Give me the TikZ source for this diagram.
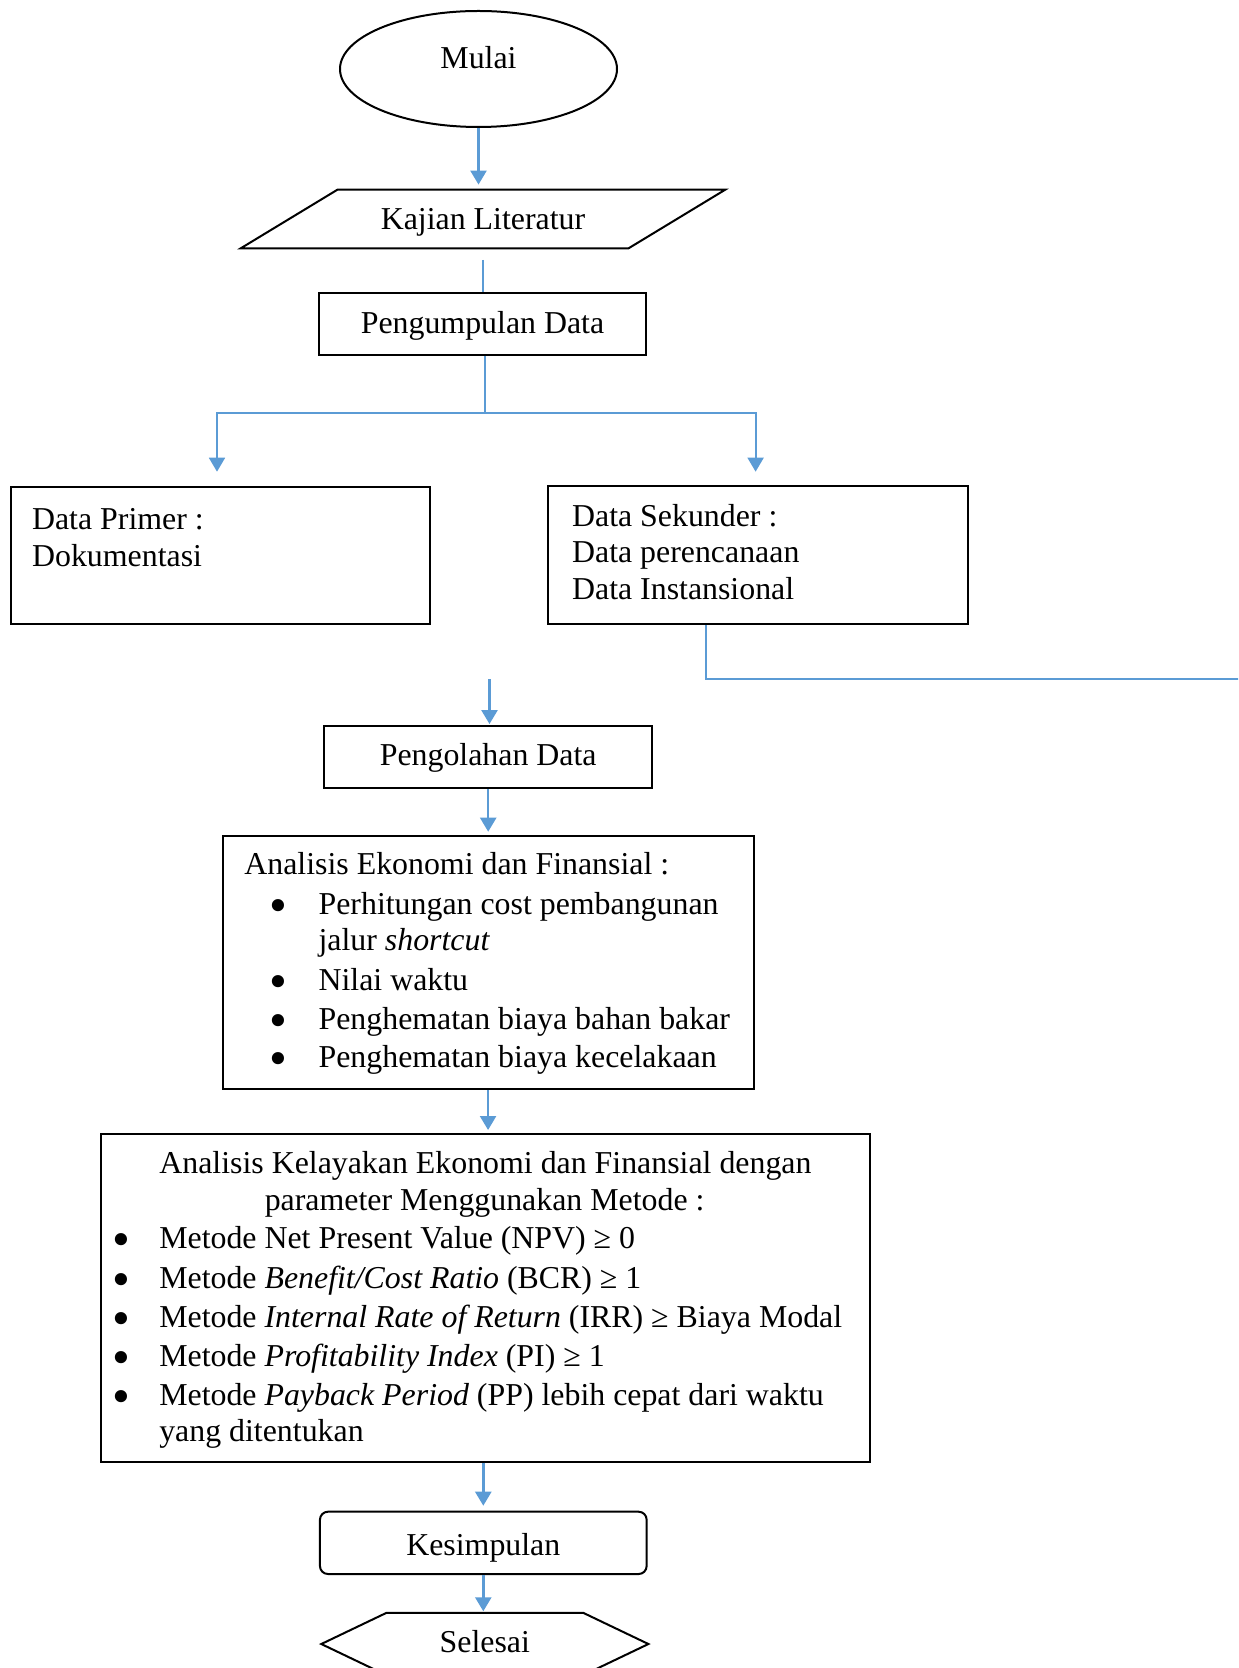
\documentclass[tikz,border=0pt]{standalone}
\usepackage{fontspec}
\setmainfont{Liberation Serif}
\usepackage{graphicx}
\usetikzlibrary{arrows.meta,calc,shapes.geometric}
\definecolor{cblue}{RGB}{91,155,213}
\newcommand\fs{\fontsize{15.93pt}{18pt}\selectfont}
\newcommand\bulglyph{\smash{\raisebox{-4pt}{\scalebox{1.6}{\textbullet}}}}
\begin{document}
\begin{tikzpicture}[x=0.5pt,y=-0.5pt, font=\fs,
  box/.style={draw, line width=1pt, inner sep=0pt},
  shp/.style={inner sep=0pt},
  conn/.style={draw=cblue, line width=1.2pt, -{Triangle[width=8pt,length=7pt]}},
  thinconn/.style={draw=cblue, line width=0.8pt},
  ln/.style={anchor=base west, inner sep=0pt},
  cl/.style={anchor=base, inner sep=0pt},
  bul/.style={anchor=base, inner sep=0pt}]
\path[use as bounding box, clip] (0,0) rectangle (1238,1668);

% shapes
\node[ellipse, box, minimum width=138.5pt, minimum height=58pt, text height=0pt, text depth=0.7pt] (mulai) at (478.5,69) {Mulai};
\node[shp, minimum width=242pt, minimum height=29pt, text height=11pt, text depth=0pt] (kaj) at (483,219) {Kajian Literatur};
\draw[line width=1pt] ([xshift=48.5pt]kaj.north west) -- (kaj.north east) -- ([xshift=-48.5pt]kaj.south east) -- (kaj.south west) -- cycle;
\node[box, minimum width=163.5pt, minimum height=31pt, text height=9.3pt, text depth=0pt] (peng) at (482.5,324) {Pengumpulan Data};

\node[box, minimum width=209.65pt, minimum height=68.5pt] (prim) at (220.35,555.8) {};
\node[ln] (prim1) at (31.7,529) {Data Primer :};
\node[ln] (prim2) at (31.7,566) {Dokumentasi};

\node[box, minimum width=210pt, minimum height=69.15pt] (sek) at (758.3,554.85) {};
\node[ln] (sek1) at (571.7,526.7) {Data Sekunder :};
\node[ln] (sek2) at (571.7,562.7) {Data perencanaan};
\node[ln] (sek3) at (571.7,599.3) {Data Instansional};

\node[box, minimum width=163.85pt, minimum height=31.15pt, text height=7.8pt, text depth=0pt] (pgl) at (488.2,757.2) {Pengolahan Data};

\node[box, minimum width=265.55pt, minimum height=126.65pt] (ana) at (488.05,962.35) {};
\node[ln] (ana0) at (244,874) {Analisis Ekonomi dan Finansial :};
\node[bul] (anab1) at (278,914) {\bulglyph};
\node[ln] (ana1) at (318.2,914) {Perhitungan cost pembangunan};
\node[ln] (ana1b) at (318.2,950) {jalur \textit{shortcut}};
\node[bul] (anab2) at (278,990.7) {\bulglyph};
\node[ln] (ana2) at (318.2,990.7) {Nilai waktu};
\node[bul] (anab3) at (278,1029) {\bulglyph};
\node[ln] (ana3) at (318.2,1029) {Penghematan biaya bahan bakar};
\node[bul] (anab4) at (278,1067.7) {\bulglyph};
\node[ln] (ana4) at (318.2,1067.7) {Penghematan biaya kecelakaan};

\node[box, minimum width=384.2pt, minimum height=163.85pt] (kel) at (485.4,1297.85) {};
\node[cl] (kel0) at (485.4,1173.3) {Analisis Kelayakan Ekonomi dan Finansial dengan};
\node[cl] (kel0b) at (484.6,1210) {parameter Menggunakan Metode :};
\node[bul] (kelb1) at (121.6,1248.3) {\bulglyph};
\node[ln] (kel1) at (158.9,1248.3) {Metode Net Present Value (NPV) ≥ 0};
\node[bul] (kelb2) at (121.6,1288.3) {\bulglyph};
\node[ln] (kel2) at (158.9,1288.3) {Metode \textit{Benefit/Cost Ratio} (BCR) ≥ 1};
\node[bul] (kelb3) at (121.6,1327.3) {\bulglyph};
\node[ln] (kel3) at (158.9,1327.3) {Metode \textit{Internal Rate of Return} (IRR) ≥ Biaya Modal};
\node[bul] (kelb4) at (121.6,1366.7) {\bulglyph};
\node[ln] (kel4) at (158.9,1366.7) {Metode \textit{Profitability Index} (PI) ≥ 1};
\node[bul] (kelb5) at (121.6,1405) {\bulglyph};
\node[ln] (kel5) at (158.9,1405) {Metode \textit{Payback Period} (PP) lebih cepat dari waktu};
\node[ln] (kel5b) at (158.9,1441.7) {yang ditentukan};

\node[box, rounded corners=4pt, minimum width=163.35pt, minimum height=31.15pt, text height=12.2pt, text depth=0pt] (kes) at (483.3,1542.85) {Kesimpulan};

\node[shp, minimum width=163.15pt, minimum height=30.7pt, text height=8.3pt, text depth=0pt] (sel) at (484.85,1644) {Selesai};
\draw[line width=1pt] (sel.west) -- ([xshift=32.5pt]sel.north west) -- ([xshift=-32.5pt]sel.north east) -- (sel.east) -- ([xshift=-32.5pt]sel.south east) -- ([xshift=32.5pt]sel.south west) -- cycle;

% connectors
\coordinate (kgap) at (483,260);
\coordinate (split) at (485,412.7);
\coordinate (prin) at (217,471.7);
\coordinate (sekin) at (755.6,471.7);
\coordinate (exitR) at (1245,679);
\coordinate (pgin) at (489.5,679);

\draw[conn, shorten >=2.5pt] (mulai.south) -- (mulai.south |- kaj.north);
\draw[thinconn, line width=1.2pt] (kgap) -- (kgap |- peng.north);
\draw[thinconn] (split |- peng.south) -- (split);
\draw[conn, line width=0.9pt] (split) -| (prin);
\draw[conn, line width=0.9pt] (split) -| (sekin);
\draw[thinconn] ([xshift=-26.15pt]sek.south) |- (exitR);
\draw[conn, shorten >=0.5pt] (pgin) -- (pgin |- pgl.north);
\draw[conn, shorten >=1.5pt] (pgl.south) -- (pgl.south |- ana.north);
\draw[conn, shorten >=1.5pt] (ana.south) -- (ana.south |- kel.north);
\draw[conn, shorten >=2.5pt] (kes.north |- kel.south) -- (kes.north);
\draw[conn, shorten >=0.8pt] (kes.south) -- (kes.south |- sel.north);
\end{tikzpicture}
\end{document}
